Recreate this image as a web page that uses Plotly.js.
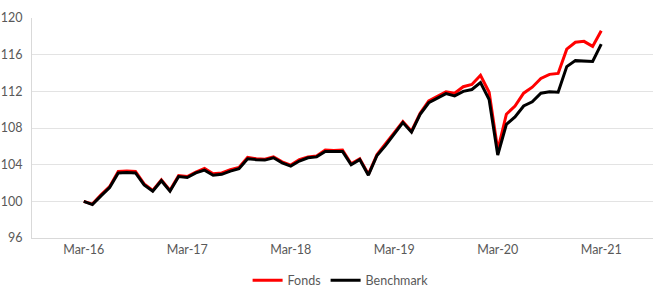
<!DOCTYPE html>
<html>
<head>
<meta charset="utf-8">
<script src="https://cdn.plot.ly/plotly-3.0.1.min.js"></script>
<style>html,body{margin:0;padding:0;background:#fff;}#chart{width:655px;height:287px;}</style>
</head>
<body>
<div id="chart"></div>
<script>
const months = [
 "Mar-16","Apr-16","May-16","Jun-16","Jul-16","Aug-16","Sep-16","Oct-16","Nov-16","Dec-16","Jan-17","Feb-17",
 "Mar-17","Apr-17","May-17","Jun-17","Jul-17","Aug-17","Sep-17","Oct-17","Nov-17","Dec-17","Jan-18","Feb-18",
 "Mar-18","Apr-18","May-18","Jun-18","Jul-18","Aug-18","Sep-18","Oct-18","Nov-18","Dec-18","Jan-19","Feb-19",
 "Mar-19","Apr-19","May-19","Jun-19","Jul-19","Aug-19","Sep-19","Oct-19","Nov-19","Dec-19","Jan-20","Feb-20",
 "Mar-20","Apr-20","May-20","Jun-20","Jul-20","Aug-20","Sep-20","Oct-20","Nov-20","Dec-20","Jan-21","Feb-21",
 "Mar-21"
];
const fonds = [
 100.0, 99.7, 100.7, 101.6, 103.25, 103.3, 103.25, 101.9, 101.2, 102.35, 101.2, 102.8,
 102.7, 103.2, 103.6, 103.0, 103.1, 103.45, 103.7, 104.8, 104.65, 104.6, 104.85, 104.3,
 103.95, 104.55, 104.85, 104.95, 105.6, 105.55, 105.6, 104.1, 104.65, 102.95, 105.1, 106.25,
 107.5, 108.7, 107.65, 109.6, 110.95, 111.45, 111.95, 111.8, 112.5, 112.75, 113.75, 111.9,
 105.6, 109.5, 110.4, 111.8, 112.45, 113.4, 113.85, 113.95, 116.6, 117.35, 117.45, 116.9,
 118.6
];
const benchmark = [
 100.0, 99.65, 100.6, 101.5, 103.1, 103.15, 103.1, 101.8, 101.1, 102.25, 101.1, 102.7,
 102.6, 103.1, 103.4, 102.85, 102.95, 103.3, 103.55, 104.65, 104.55, 104.5, 104.75, 104.2,
 103.85, 104.4, 104.75, 104.85, 105.45, 105.45, 105.45, 104.0, 104.55, 102.85, 105.0, 106.1,
 107.4, 108.6, 107.55, 109.5, 110.75, 111.25, 111.75, 111.5, 112.0, 112.2, 112.95, 111.1,
 105.05, 108.4, 109.2, 110.4, 110.85, 111.8, 111.95, 111.9, 114.7, 115.35, 115.3, 115.25,
 117.15
];
const xTickLabels = ["Mar-16","Mar-17","Mar-18","Mar-19","Mar-20","Mar-21"];
const yTicks = [96,100,104,108,112,116,120];

const traces = [
 {x: months, y: fonds, name: "Fonds", type: "scatter", mode: "lines",
  line: {color: "#ff0000", width: 3}},
 {x: months, y: benchmark, name: "Benchmark", type: "scatter", mode: "lines",
  line: {color: "#000000", width: 3}}
];
const layout = {
 width: 655, height: 287,
 margin: {l: 32, r: 2, t: 18, b: 49},
 paper_bgcolor: "#fff", plot_bgcolor: "#fff",
 font: {family: "Lato, 'Open Sans', sans-serif", size: 12, color: "#595959"},
 showlegend: true,
 legend: {orientation: "h", x: 0.52, xanchor: "center", xref: "container",
  y: 0.022, yanchor: "middle", yref: "container",
  font: {size: 12.5, color: "#595959"}, traceorder: "normal"},
 xaxis: {type: "category", range: [-6, 66], tickmode: "array", tickvals: xTickLabels,
  ticktext: xTickLabels, showgrid: false, zeroline: false, showline: true,
  linecolor: "#d9d9d9", linewidth: 1, ticks: "", tickfont: {size: 12.5, color: "#595959"},
  automargin: false},
 yaxis: {range: [96, 120], tickvals: yTicks, showgrid: true, gridcolor: "#e3e3e3",
  gridwidth: 1, zeroline: false, showline: true, linecolor: "#d9d9d9", linewidth: 1,
  ticks: "", ticklabelstandoff: 6, tickfont: {size: 12.5, color: "#595959"}, automargin: false}
};
Plotly.newPlot("chart", traces, layout, {displayModeBar: false, staticPlot: true});
</script>
</body>
</html>
